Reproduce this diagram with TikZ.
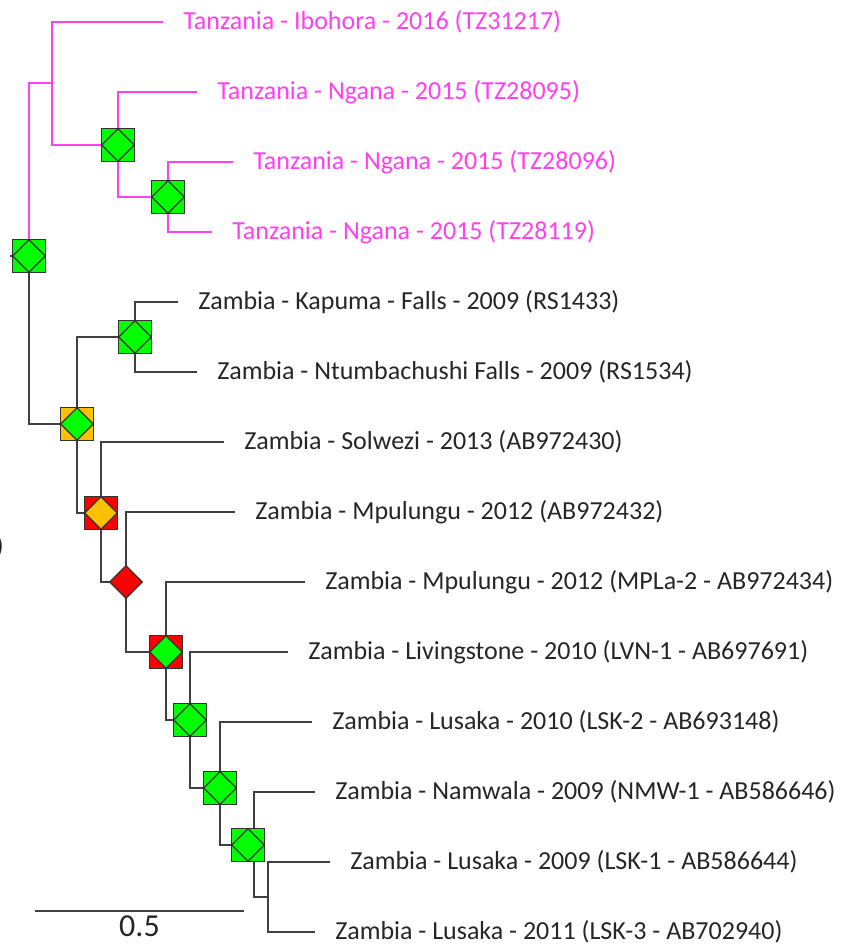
\documentclass[tikz,border=0pt]{standalone}
\usepackage{fontspec}
\setmainfont{Carlito}
\usetikzlibrary{shapes.geometric, positioning}
\definecolor{tzpink}{RGB}{255, 64, 240}
\definecolor{branchgray}{RGB}{64, 64, 64}
\definecolor{labelgray}{RGB}{38, 38, 38}
\definecolor{supgreen}{RGB}{0, 255, 0}
\definecolor{suporange}{RGB}{255, 192, 0}
\definecolor{supred}{RGB}{255, 0, 0}

\begin{document}
\begin{tikzpicture}[x=0.75pt, y=-0.75pt,
    branch/.style={line width=1.5pt, branchgray},
    tzbranch/.style={line width=1.5pt, tzpink},
    taxon/.style={anchor=west, inner xsep=15pt, inner ysep=0pt, font=\fontsize{19.5}{22}\selectfont, text=labelgray},
    boxmark/.style={rectangle, draw=black!80, line width=1pt, fill=#1, inner sep=0pt, minimum size=24.75pt},
    diamark/.style={diamond, draw=black!80, line width=1pt, fill=#1, inner sep=0pt, minimum size=24.75pt}]
    \useasboundingbox (0,0) rectangle (846,947);

    % taxa
    \node[taxon, text=tzpink] (tz31217) at (163,22) {Tanzania - Ibohora - 2016 (TZ31217)};
    \node[taxon, text=tzpink] (tz28095) at (197,92) {Tanzania - Ngana - 2015 (TZ28095)};
    \node[taxon, text=tzpink] (tz28096) at (233,162) {Tanzania - Ngana - 2015 (TZ28096)};
    \node[taxon, text=tzpink] (tz28119) at (212,232) {Tanzania - Ngana - 2015 (TZ28119)};
    \node[taxon] (rs1433) at (178,302) {Zambia - Kapuma - Falls - 2009 (RS1433)};
    \node[taxon] (rs1534) at (197,372) {Zambia - Ntumbachushi Falls - 2009 (RS1534)};
    \node[taxon] (ab972430) at (224,442) {Zambia - Solwezi - 2013 (AB972430)};
    \node[taxon] (ab972432) at (235,512) {Zambia - Mpulungu - 2012 (AB972432)};
    \node[taxon] (ab972434) at (305,582) {Zambia - Mpulungu - 2012 (MPLa-2 - AB972434)};
    \node[taxon] (ab697691) at (288,652) {Zambia - Livingstone - 2010 (LVN-1 - AB697691)};
    \node[taxon] (ab693148) at (312,722) {Zambia - Lusaka - 2010 (LSK-2 - AB693148)};
    \node[taxon] (ab586646) at (315,792) {Zambia - Namwala - 2009 (NMW-1 - AB586646)};
    \node[taxon] (ab586644) at (330,862) {Zambia - Lusaka - 2009 (LSK-1 - AB586644)};
    \node[taxon] (ab702940) at (315,932) {Zambia - Lusaka - 2011 (LSK-3 - AB702940)};
    \node[taxon, anchor=east, inner sep=0pt] (cutparen) at (4,547) {)};

    % internal nodes
    \coordinate (base) at (10,256);
    \coordinate (root) at (29,256);
    \coordinate (tzclade) at (52,83);
    \coordinate (ngana) at (118,145);
    \coordinate (nganasub) at (168,197);
    \coordinate (z1) at (77,424);
    \coordinate (kapuma) at (135,337);
    \coordinate (z2) at (101,513);
    \coordinate (z3) at (126,582);
    \coordinate (z4) at (166,652);
    \coordinate (z5) at (190,720);
    \coordinate (z6) at (220,788);
    \coordinate (z7) at (254,845);
    \coordinate (z7mark) at (248,845);
    \coordinate (z8) at (268,897);

    % branches
    \foreach \p/\c in {root/tzclade, tzclade/tz31217.west, tzclade/ngana, ngana/tz28095.west,
        ngana/nganasub, nganasub/tz28096.west, nganasub/tz28119.west}
        \draw[tzbranch] (\p) |- (\c);
    \draw[branch] (base) -- (root);
    \foreach \p/\c in {root/z1, z1/kapuma, kapuma/rs1433.west, kapuma/rs1534.west,
        z1/z2, z2/ab972430.west, z2/z3, z3/ab972432.west, z3/z4, z4/ab972434.west,
        z4/z5, z5/ab697691.west, z5/z6, z6/ab693148.west, z6/z7, z7/ab586646.west,
        z7/z8, z8/ab586644.west, z8/ab702940.west}
        \draw[branch] (\p) |- (\c);

    % support markers
    \foreach \pos/\sq/\dm in {root/supgreen/supgreen, ngana/supgreen/supgreen,
        nganasub/supgreen/supgreen, kapuma/supgreen/supgreen, z1/suporange/supgreen,
        z2/supred/suporange, z4/supred/supgreen, z5/supgreen/supgreen,
        z6/supgreen/supgreen, z7mark/supgreen/supgreen}{
        \node[boxmark=\sq] (\pos-box) at (\pos) {};
        \node[diamark=\dm] (\pos-dia) at (\pos) {};
    }
    \node[diamark=supred] (z3-dia) at (z3) {};

    % scale bar
    \coordinate (barL) at (35,911);
    \coordinate (barR) at (244,911);
    \draw[branch, line width=1.2pt] (barL) -- (barR)
        node[midway, below=3pt, inner sep=0pt, font=\fontsize{24}{27}\selectfont, text=labelgray] (barlabel) {0.5};
\end{tikzpicture}
\end{document}
